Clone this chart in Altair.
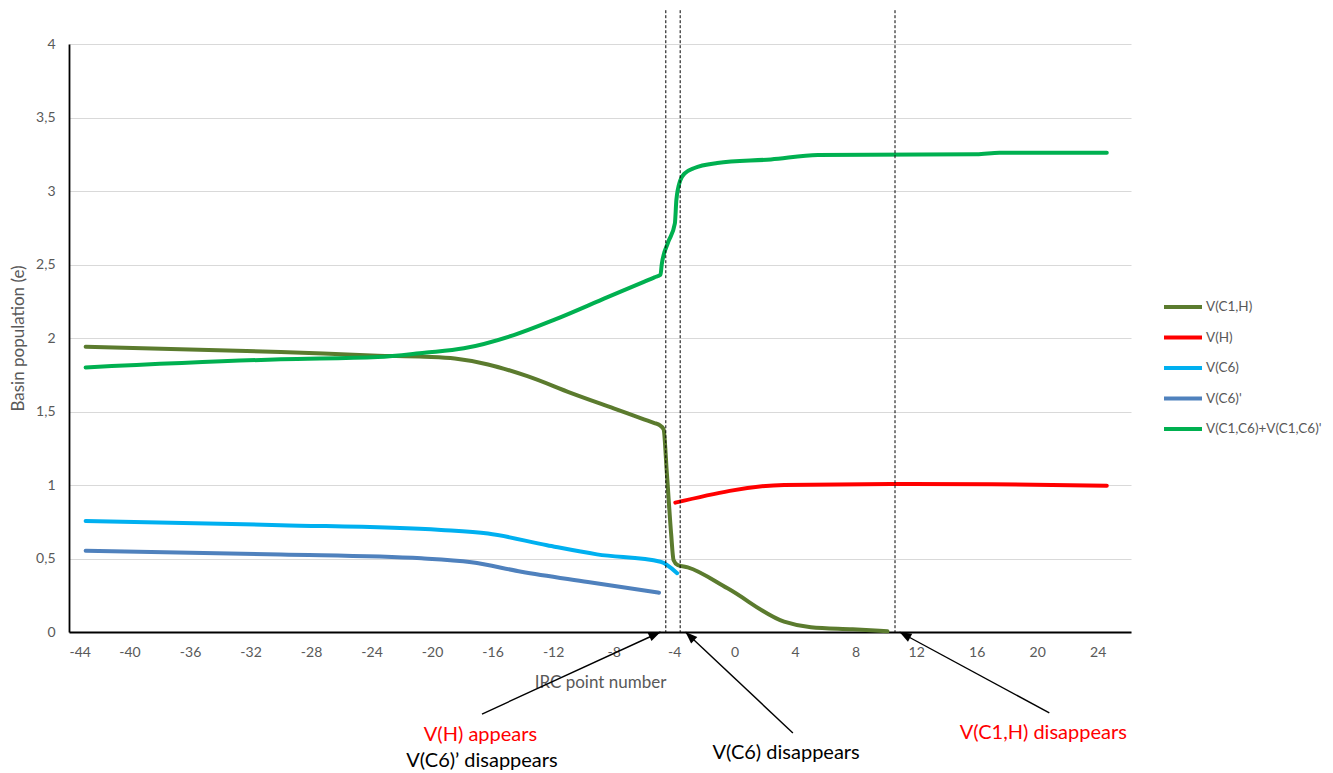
import math
import altair as alt
import pandas as pd

# ---------------- data ----------------
SERIES = ["V(C1,H)", "V(H)", "V(C6)", "V(C6)'", "V(C1,C6)+V(C1,C6)'"]
COLORS = ["#5b7b2e", "#ff0000", "#00b0f0", "#4f81bd", "#00b050"]

c1h_x = [-42.9, -30.0, -23.6, -20.5, -18.5, -16.3, -13.7, -10.8, -8.0, -6.0, -5.3, -5.0,
         -4.7, -4.48, -4.2, -4.04, -3.77, -3.1, -0.47, 3.27, 5.04, 7.8, 10.1]
c1h_y = [1.94, 1.905, 1.88, 1.872, 1.86, 1.82, 1.74, 1.625, 1.521, 1.447, 1.421, 1.41,
         1.38, 1.08, 0.67, 0.49, 0.456, 0.44, 0.297, 0.07, 0.032, 0.018, 0.005]

h_x = [-3.92, 3.27, 11.65, 17.0, 24.6]
h_y = [0.88, 1.0, 1.007, 1.005, 0.995]

c6_x = [-42.9, -30.0, -19.4, -16.3, -12.4, -9.1, -4.9, -3.8]
c6_y = [0.755, 0.727, 0.694, 0.67, 0.59, 0.528, 0.478, 0.40]

c6p_x = [-42.9, -30.0, -20.7, -17.4, -14.1, -9.7, -5.0]
c6p_y = [0.553, 0.527, 0.501, 0.475, 0.41, 0.34, 0.267]

c1c6_x = [-42.9, -30.0, -23.6, -20.5, -17.9, -14.6, -11.9, -8.4, -6.0, -5.3, -4.9,
          -4.82, -4.4, -3.95, -3.85, -3.6, -3.3, -2.7, -1.15, 2.4, 5.5, 16.0, 17.5, 24.6]
c1c6_y = [1.80, 1.855, 1.87, 1.90, 1.93, 2.02, 2.125, 2.278, 2.382, 2.413, 2.43,
          2.50, 2.65, 2.78, 2.94, 3.07, 3.12, 3.155, 3.19, 3.215, 3.245, 3.25, 3.26, 3.26]

dash_x = [-4.55, -3.6, 10.6]

arrow_tail_x = [-16.7, 3.85, 20.8]
arrow_tail_y = [-0.558, -0.687, -0.55]
arrow_tip_x = [-4.9, -3.25, 10.9]
arrow_tip_y = [0.0, 0.0, 0.0]

red_labels = ["V(H) appears", "V(C1,H) disappears"]
red_x = [-16.8, 20.4]
red_y = [-0.70, -0.687]
black_labels = ["V(C6)\u2019 disappears", "V(C6) disappears"]
black_x = [-16.7, 3.4]
black_y = [-0.88, -0.82]

X_TICKS = list(range(-44, 25, 4))
Y_TICKS = [0, 0.5, 1, 1.5, 2, 2.5, 3, 3.5, 4]

# ---------------- layout ----------------
PLOT_W, PLOT_H = 1062, 588
X_DOMAIN = [-44, 26.2]
Y_DOMAIN = [0, 4]
FONT = "Lato"
GREY = "#595959"

xs = alt.Scale(domain=X_DOMAIN, nice=False, zero=False)
ys = alt.Scale(domain=Y_DOMAIN, nice=False, zero=False)

frames = []
for name, xv, yv in [(SERIES[0], c1h_x, c1h_y), (SERIES[1], h_x, h_y),
                     (SERIES[2], c6_x, c6_y), (SERIES[3], c6p_x, c6p_y),
                     (SERIES[4], c1c6_x, c1c6_y)]:
    frames.append(pd.DataFrame({"irc": xv, "pop": yv, "series": name,
                                "ord": list(range(len(xv)))}))
lines_df = pd.concat(frames, ignore_index=True)

x_axis = alt.Axis(values=X_TICKS, labelExpr="'' + datum.value", ticks=False, grid=False,
                  domainColor="black", domainWidth=1.8, labelColor=GREY, labelFont=FONT,
                  labelFontSize=14, labelPadding=13, title="IRC point number",
                  titleFont=FONT, titleFontSize=17, titleFontWeight="normal",
                  titleColor=GREY, titleY=50, titleBaseline="middle")
y_axis = alt.Axis(values=Y_TICKS, labelExpr="replace('' + datum.value, '.', ',')",
                  ticks=False, grid=True, gridColor="#d9d9d9", gridWidth=1.2,
                  domainColor="black", domainWidth=1.8, labelColor=GREY, labelFont=FONT,
                  labelFontSize=14, labelPadding=14, title="Basin population (e)",
                  titleFont=FONT, titleFontSize=17, titleFontWeight="normal",
                  titleColor=GREY, titleX=-51, titleY=PLOT_H / 2, titleAlign="center",
                  titleBaseline="middle")

lines = alt.Chart(lines_df).mark_line(strokeWidth=4, strokeCap="round", strokeJoin="round",
                                      interpolate="monotone").encode(
    x=alt.X("irc:Q", scale=xs, axis=x_axis),
    y=alt.Y("pop:Q", scale=ys, axis=y_axis),
    color=alt.Color("series:N", scale=alt.Scale(domain=SERIES, range=COLORS),
                    legend=alt.Legend(title=None, orient="none", legendX=1093, legendY=250,
                                      symbolType="stroke", symbolSize=1444,
                                      symbolStrokeWidth=4, labelFont=FONT, labelFontSize=13.5,
                                      labelColor=GREY, rowPadding=4.5, clipHeight=26,
                                      labelOffset=2, labelLimit=200, padding=0)),
    order=alt.Order("ord:Q"),
)

dash_df = pd.DataFrame({"irc": dash_x})
dashes = alt.Chart(dash_df).mark_rule(color="black", strokeWidth=1, strokeDash=[3, 2]).encode(
    x=alt.X("irc:Q", scale=xs),
    y=alt.Y(datum=4.23, type="quantitative", scale=ys),
    y2=alt.Y2(datum=0),
)

SX = PLOT_W / (X_DOMAIN[1] - X_DOMAIN[0])
SY = PLOT_H / (Y_DOMAIN[1] - Y_DOMAIN[0])
angles = []
for x0, y0, x1, y1 in zip(arrow_tail_x, arrow_tail_y, arrow_tip_x, arrow_tip_y):
    a = math.degrees(math.atan2((x1 - x0) * SX, (y1 - y0) * SY)) % 360
    angles.append(a)
arrow_df = pd.DataFrame({"irc": arrow_tail_x, "pop": arrow_tail_y,
                         "irc_tip": arrow_tip_x, "pop_tip": arrow_tip_y, "ang": angles})

arrow_lines = alt.Chart(arrow_df).mark_rule(color="black", strokeWidth=1.4).encode(
    x=alt.X("irc:Q", scale=xs),
    y=alt.Y("pop:Q", scale=ys),
    x2="irc_tip:Q", y2="pop_tip:Q",
)
head_df = pd.DataFrame({"irc": arrow_tip_x, "pop": arrow_tip_y, "ang": angles})
arrow_heads = alt.Chart(head_df).mark_point(
    shape="M0,0L-0.9,2.4L0.9,2.4Z", filled=True, color="black", opacity=1,
    size=100, strokeWidth=0).encode(
    x=alt.X("irc:Q", scale=xs),
    y=alt.Y("pop:Q", scale=ys),
    angle=alt.Angle("ang:Q", scale=None),
)

red_df = pd.DataFrame({"label": red_labels, "irc": red_x, "pop": red_y})
black_df = pd.DataFrame({"label": black_labels, "irc": black_x, "pop": black_y})
red_text = alt.Chart(red_df).mark_text(font=FONT, fontSize=20, color="#ff0000",
                                       align="center", baseline="middle").encode(
    x=alt.X("irc:Q", scale=xs), y=alt.Y("pop:Q", scale=ys), text="label:N")
black_text = alt.Chart(black_df).mark_text(font=FONT, fontSize=20, color="black",
                                           align="center", baseline="middle").encode(
    x=alt.X("irc:Q", scale=xs), y=alt.Y("pop:Q", scale=ys), text="label:N")

chart = alt.layer(lines, dashes, arrow_lines, arrow_heads, red_text, black_text).properties(
    width=PLOT_W, height=PLOT_H,
    padding={"left": 61, "top": 36, "right": 194, "bottom": 141},
    autosize=alt.AutoSizeParams(type="none"),
    background="white",
).configure_view(stroke=None)

chart.save("out.html", embed_options={"renderer": "svg", "actions": False})
